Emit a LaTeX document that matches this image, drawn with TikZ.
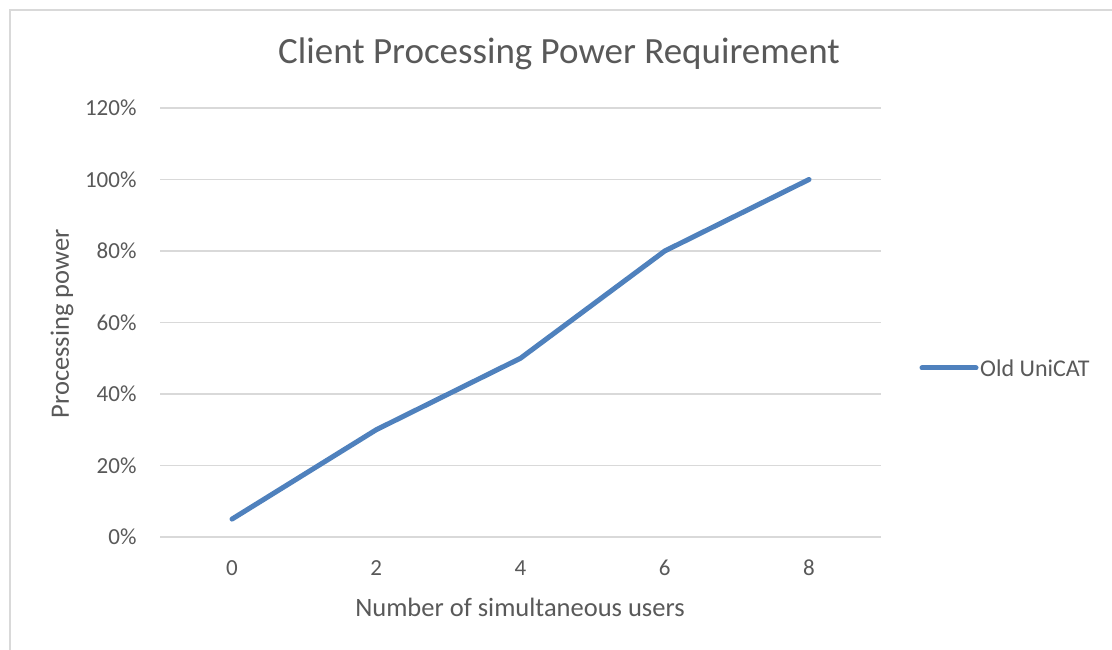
\documentclass[tikz,border=0pt]{standalone}
\usepackage{fontspec}
\setmainfont{Carlito}
\definecolor{txt}{RGB}{89,89,89}
\definecolor{grid}{RGB}{217,217,217}
\definecolor{series}{RGB}{79,129,189}
\begin{document}
\begin{tikzpicture}[x=1pt,y=1pt,
  gridline/.style={draw=grid,line width=1.3pt},
  ticklab/.style={text=txt,font=\fontsize{23}{25}\selectfont},
  leglab/.style={text=txt,font=\fontsize{24}{26}\selectfont},
  axtitle/.style={text=txt,font=\fontsize{26.5}{28}\selectfont},
  serline/.style={draw=series,line width=5pt,line join=round,line cap=round}]
\useasboundingbox (0,0) rectangle (1112,650);
\fill[white] (0,0) rectangle (1112,650);
% chart frame
\draw[draw=grid,line width=2pt] (10,0) -- (10,640) -- (1112,640);
% horizontal grid and y labels
\foreach \p/\lab in {0/0\%,20/20\%,40/40\%,60/60\%,80/80\%,100/100\%,120/120\%}{
  \pgfmathsetmacro{\yy}{650-(537-\p*3.575)}
  \draw[gridline] (160,\yy) -- (881,\yy);
  \node[ticklab,anchor=east] (y\p) at (140,\yy) {\lab};
}
% x labels
\foreach \v in {0,2,4,6,8}{
  \pgfmathsetmacro{\xx}{232+\v*72.125}
  \node[ticklab] (x\v) at (\xx,650-568) {\v};
}
% axis titles
\node[axtitle] (xt) at (520,650-607) {Number of simultaneous users};
\node[axtitle,rotate=90] (yt) at (62,650-324) {Processing power};
% title
\node[text=txt,font=\fontsize{37}{40}\selectfont] (title) at (559,650-54) {Client Processing Power Requirement};
% data series
\coordinate (d0) at (232,650-519.1);
\coordinate (d2) at (376.25,650-429.75);
\coordinate (d4) at (520.5,650-358.25);
\coordinate (d6) at (664.75,650-251);
\coordinate (d8) at (809,650-179.5);
\draw[serline] (d0) -- (d2) -- (d4) -- (d6) -- (d8);
% legend
\coordinate (la) at (922,650-368);
\coordinate (lb) at (976,650-368);
\draw[serline] (la) -- (lb);
\node[leglab,anchor=west,inner sep=0pt] (leg) at (980,650-368) {Old UniCAT};
\end{tikzpicture}
\end{document}
